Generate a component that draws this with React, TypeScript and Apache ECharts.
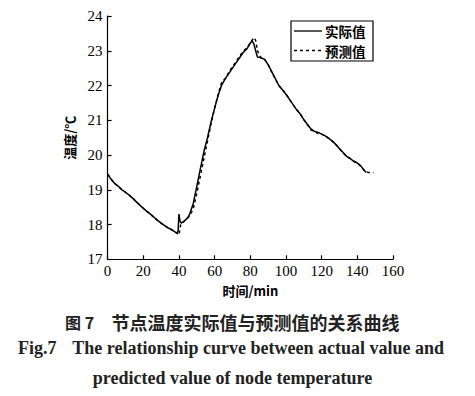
import React, { useEffect, useRef } from "react";
import * as echarts from "echarts";

const actualT = [0, 2, 4, 6, 8, 10, 12, 14, 16, 18, 20, 22, 24, 26, 28, 30, 32, 34, 36, 38, 39, 39.5, 40, 40.6, 41.3, 43, 45, 46, 48, 50, 52, 54, 56, 58, 60, 62, 64, 66, 68, 70, 72, 74, 76, 78, 80, 81, 82, 83, 84, 86, 88, 90, 92, 94, 96, 98, 100, 102, 104, 106, 108, 110, 112, 114, 116, 118, 120, 122, 124, 126, 128, 130, 132, 134, 136, 138, 140, 142, 144, 145];
const actualV = [19.45, 19.3, 19.18, 19.1, 19.0, 18.93, 18.85, 18.76, 18.66, 18.56, 18.47, 18.38, 18.3, 18.21, 18.12, 18.04, 17.97, 17.9, 17.85, 17.78, 17.76, 17.8, 18.3, 18.1, 18.04, 18.1, 18.2, 18.3, 18.6, 19.1, 19.6, 20.1, 20.5, 20.95, 21.35, 21.72, 22.02, 22.2, 22.35, 22.5, 22.65, 22.8, 22.95, 23.05, 23.22, 23.28, 23.2, 23.0, 22.82, 22.8, 22.75, 22.6, 22.4, 22.2, 22.0, 21.88, 21.75, 21.6, 21.45, 21.3, 21.18, 21.02, 20.88, 20.75, 20.68, 20.65, 20.6, 20.55, 20.48, 20.4, 20.3, 20.18, 20.07, 19.96, 19.9, 19.82, 19.77, 19.68, 19.55, 19.5];

const predT = [0, 2, 4, 6, 8, 10, 12, 14, 16, 18, 20, 22, 24, 26, 28, 30, 32, 34, 36, 38, 39, 40, 41, 42, 44, 46, 48, 50, 52, 54, 56, 58, 60, 62, 64, 66, 68, 70, 72, 74, 76, 78, 80, 82, 83, 84, 86, 88, 90, 92, 94, 96, 98, 100, 102, 104, 106, 108, 110, 112, 114, 116, 118, 120, 122, 124, 126, 128, 130, 132, 134, 136, 138, 140, 142, 144, 146, 149];
const predV = [19.45, 19.3, 19.18, 19.1, 19.0, 18.93, 18.85, 18.76, 18.66, 18.56, 18.47, 18.38, 18.3, 18.21, 18.12, 18.04, 17.97, 17.9, 17.85, 17.78, 17.75, 17.7, 18.0, 18.05, 18.15, 18.25, 18.45, 18.9, 19.4, 19.9, 20.4, 20.9, 21.35, 21.75, 22.1, 22.2, 22.38, 22.55, 22.68, 22.85, 22.98, 23.08, 23.22, 23.38, 23.3, 23.0, 22.8, 22.75, 22.6, 22.38, 22.2, 22.0, 21.88, 21.75, 21.6, 21.45, 21.3, 21.18, 21.02, 20.88, 20.72, 20.68, 20.62, 20.6, 20.55, 20.48, 20.4, 20.3, 20.18, 20.07, 19.96, 19.9, 19.82, 19.77, 19.68, 19.55, 19.5, 19.5];

const seriesNames = ["实际值", "预测值"];
const xTicks = { min: 0, max: 160, interval: 20 };
const yTicks = { min: 17, max: 24, interval: 1 };
const xName = "时间/min";
const yName = "温度/℃";
const caption1a = "图 7";
const caption1b = "节点温度实际值与预测值的关系曲线";
const caption2a = "Fig.7";
const caption2b = "The relationship curve between actual value and";
const caption3 = "predicted value of node temperature";

const serif = "'Liberation Serif', 'Times New Roman', serif";
const cjk = "'Noto Sans CJK SC', sans-serif";

export default function App() {
  const ref = useRef<HTMLDivElement>(null);
  useEffect(() => {
    if (!ref.current) return;
    const chart = echarts.init(ref.current, null, { renderer: "svg" });
    const axisCommon = {
      axisLine: { show: true, lineStyle: { color: "#000", width: 1.2 } },
      axisTick: { show: true, inside: true, length: 4, lineStyle: { color: "#000", width: 1.2 } },
      splitLine: { show: false },
    };
    const legendRows = [31, 50.5];
    const legendDash = [null, [3, 3]];
    chart.setOption({
      animation: false,
      backgroundColor: "#fff",
      grid: { left: 107.6, right: 82, top: 16, bottom: 136.7, containLabel: false },
      xAxis: {
        type: "value",
        min: xTicks.min,
        max: xTicks.max,
        interval: xTicks.interval,
        name: xName,
        nameLocation: "middle",
        nameGap: 25,
        nameTextStyle: { fontFamily: cjk, fontSize: 13, color: "#000", fontWeight: "bold" },
        axisLabel: { fontFamily: serif, fontSize: 15, color: "#000", margin: 4 },
        ...axisCommon,
      },
      yAxis: {
        type: "value",
        min: yTicks.min,
        max: yTicks.max,
        interval: yTicks.interval,
        name: yName,
        nameLocation: "middle",
        nameGap: 32,
        nameRotate: 90,
        nameTextStyle: { fontFamily: cjk, fontSize: 13, color: "#000", fontWeight: "bold" },
        axisLabel: { fontFamily: serif, fontSize: 15, color: "#000", margin: 5 },
        ...axisCommon,
      },
      series: [
        {
          name: seriesNames[0],
          type: "line",
          symbol: "none",
          data: actualT.map((t, i) => [t, actualV[i]]),
          lineStyle: { color: "#000", width: 1.5, type: "solid" },
          z: 3,
        },
        {
          name: seriesNames[1],
          type: "line",
          symbol: "none",
          data: predT.map((t, i) => [t, predV[i]]),
          lineStyle: { color: "#000", width: 1.5, type: [3, 3] },
          z: 2,
        },
      ],
      graphic: [
        {
          type: "rect",
          shape: { x: 291, y: 21, width: 82, height: 40 },
          style: { fill: "#fff", stroke: "#000", lineWidth: 1.2 },
          z: 10,
        },
        ...seriesNames.flatMap((name, i) => [
          {
            type: "line",
            shape: { x1: 294, y1: legendRows[i], x2: 322, y2: legendRows[i] },
            style: { stroke: "#000", lineWidth: 1.3, lineDash: legendDash[i] || undefined },
            z: 11,
          },
          {
            type: "text",
            x: 325,
            y: legendRows[i],
            style: { text: name, font: `bold 13.5px ${cjk}`, lineHeight: 14, fill: "#000", verticalAlign: "middle" },
            z: 11,
          },
        ]),
        {
          type: "text",
          x: 65,
          y: 321.7,
          style: { text: caption1a, font: `bold 16px ${cjk}`, fill: "#222", verticalAlign: "middle" },
        },
        {
          type: "text",
          x: 255.5,
          y: 321.7,
          style: { text: caption1b, font: `bold 18px ${cjk}`, fill: "#222", align: "center", verticalAlign: "middle" },
        },
        {
          type: "text",
          x: 18,
          y: 348,
          style: { text: caption2a, font: `bold 18px ${serif}`, fill: "#222", align: "left", verticalAlign: "middle" },
        },
        {
          type: "text",
          x: 444,
          y: 348,
          style: { text: caption2b, font: `bold 18px ${serif}`, fill: "#222", align: "right", verticalAlign: "middle" },
        },
        {
          type: "text",
          x: 232.5,
          y: 377.7,
          style: { text: caption3, font: `bold 18px ${serif}`, fill: "#222", align: "center", verticalAlign: "middle" },
        },
      ],
    });
    return () => chart.dispose();
  }, []);
  return <div ref={ref} style={{ width: 475, height: 396, position: "absolute", left: 0, top: 0 }} />;
}
